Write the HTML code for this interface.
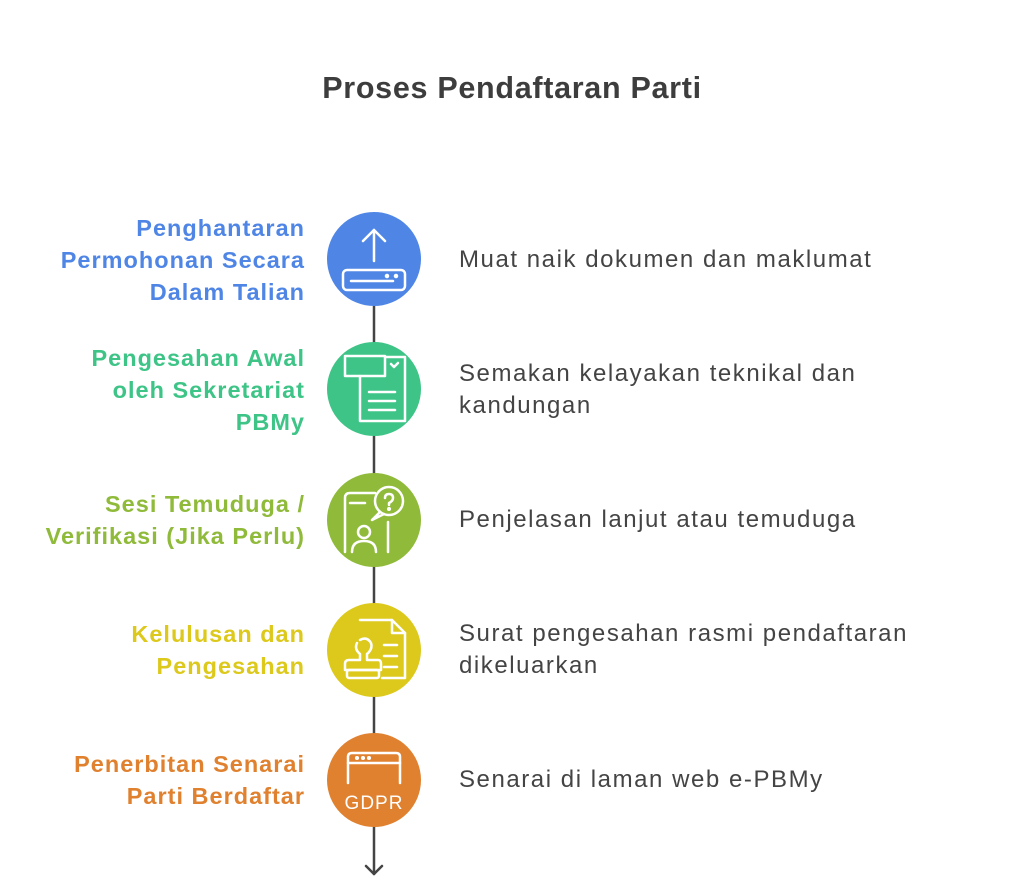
<!DOCTYPE html>
<html><head><meta charset="utf-8"><style>
body{margin:0;width:1024px;height:887px;background:#fff;font-family:"Liberation Sans",sans-serif;position:relative;overflow:hidden}
.t{position:absolute;left:0;width:1024px;top:71px;text-align:center;font-size:30.5px;font-weight:bold;color:#3d3d3d;letter-spacing:0.7px}
.l{position:absolute;right:719px;text-align:right;font-size:23.5px;font-weight:bold;line-height:32px;letter-spacing:1px}
.d{position:absolute;left:459px;font-size:24px;color:#444;line-height:32px;letter-spacing:1.55px;white-space:nowrap}
svg{position:absolute;left:0;top:0}
</style></head><body>
<div class="t">Proses Pendaftaran Parti</div>
<svg width="1024" height="887" fill="none" stroke="#fff" stroke-width="2.5" stroke-linecap="round" stroke-linejoin="round">
<g stroke="#444" stroke-width="2.5"><line x1="374" y1="306" x2="374" y2="342"/><line x1="374" y1="436" x2="374" y2="473"/><line x1="374" y1="567" x2="374" y2="603"/><line x1="374" y1="697" x2="374" y2="733"/><line x1="374" y1="827" x2="374" y2="874"/><polyline points="366,866 374,874 382,866"/></g>
<circle cx="374" cy="259" r="47" fill="#4F86E6" stroke="none"/>
<circle cx="374" cy="389" r="47" fill="#3DC486" stroke="none"/>
<circle cx="374" cy="520" r="47" fill="#8FBA3A" stroke="none"/>
<circle cx="374" cy="650" r="47" fill="#DCC91C" stroke="none"/>
<circle cx="374" cy="780" r="47" fill="#E0812F" stroke="none"/>
<line x1="374" y1="230" x2="374" y2="261"/><polyline points="363,241 374,230 385,241"/>
<rect x="343" y="270" width="62" height="20" rx="4"/><line x1="351" y1="281" x2="393" y2="281"/>
<circle cx="387" cy="276" r="1" fill="#fff"/><circle cx="396" cy="276" r="1" fill="#fff"/>
<rect x="345" y="356" width="40" height="20"/><polyline points="385,357 405,357 405,421 360,421 360,376"/>
<polyline points="391,364 394,367 398,363"/><line x1="369" y1="392" x2="395" y2="392"/><line x1="369" y1="401" x2="395" y2="401"/><line x1="369" y1="410" x2="395" y2="410"/>
<path d="M375,493 L350,493 Q345,493 345,498 L345,552"/><line x1="350" y1="503" x2="365" y2="503"/>
<circle cx="389" cy="501" r="14"/><path d="M380,512 L372,520 L384,514"/>
<path d="M385,498 Q385,494 389,494 Q393,494 393,498 Q393,501 389,503 L389,505"/><circle cx="389" cy="509" r="0.8" fill="#fff"/>
<circle cx="364" cy="532" r="6"/><path d="M352,552 Q352,541 364,541 Q376,541 376,552"/><line x1="388" y1="522" x2="388" y2="552"/>
<path d="M360,620 L392,620 L405,633 L405,678 L382,678"/><polyline points="392,620 392,633 405,633"/>
<line x1="384" y1="645" x2="397" y2="645"/><line x1="384" y1="656" x2="397" y2="656"/><line x1="384" y1="667" x2="397" y2="667"/>
<path d="M360,640 Q367,636 371,643 Q373,649 367,654 L367,660 L378,660 Q381,660 381,664 L381,670 L345,670 L345,664 Q345,660 349,660 L360,660 L360,654 Q354,649 357,643"/>
<rect x="347" y="670" width="32" height="8" rx="2"/>
<path d="M348,783 L348,757 Q348,753 352,753 L396,753 Q400,753 400,757 L400,783"/><line x1="348" y1="763" x2="400" y2="763"/>
<circle cx="357" cy="758" r="0.8" fill="#fff"/><circle cx="363" cy="758" r="0.8" fill="#fff"/><circle cx="369" cy="758" r="0.8" fill="#fff"/>
<text x="374" y="809" font-family="Liberation Sans" font-size="19" fill="#fff" stroke="none" text-anchor="middle" letter-spacing="1">GDPR</text>
</svg>
<div class="l" style="top:212px;color:#4F86E6">Penghantaran<br>Permohonan Secara<br>Dalam Talian</div>
<div class="d" style="top:244px">Muat naik dokumen dan maklumat</div>
<div class="l" style="top:342px;color:#3DC486">Pengesahan Awal<br>oleh Sekretariat<br>PBMy</div>
<div class="d" style="top:358px">Semakan kelayakan teknikal dan<br>kandungan</div>
<div class="l" style="top:488px;color:#8FBA3A">Sesi Temuduga /<br>Verifikasi (Jika Perlu)</div>
<div class="d" style="top:504px">Penjelasan lanjut atau temuduga</div>
<div class="l" style="top:618px;color:#DCC91C">Kelulusan dan<br>Pengesahan</div>
<div class="d" style="top:618px">Surat pengesahan rasmi pendaftaran<br>dikeluarkan</div>
<div class="l" style="top:748px;color:#E0812F">Penerbitan Senarai<br>Parti Berdaftar</div>
<div class="d" style="top:764px">Senarai di laman web e-PBMy</div>
</body></html>
